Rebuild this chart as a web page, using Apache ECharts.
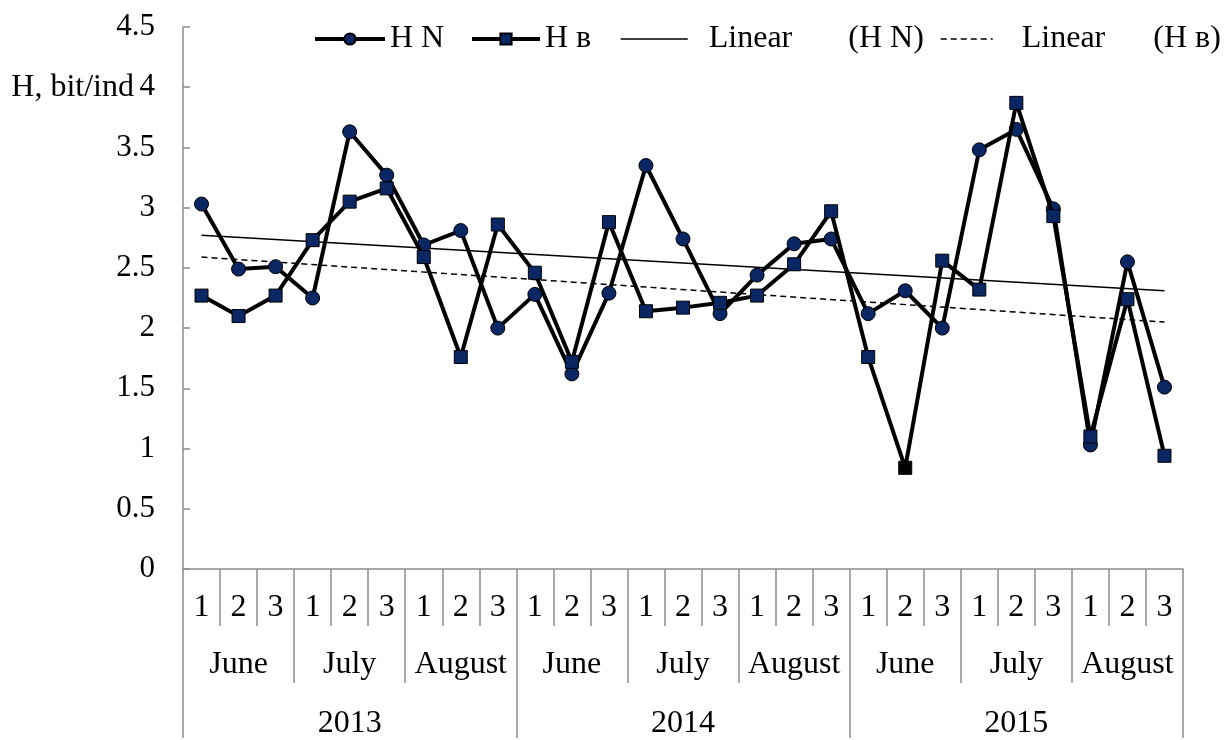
<!DOCTYPE html>
<html>
<head>
<meta charset="utf-8">
<script src="https://cdn.jsdelivr.net/npm/echarts@6/dist/echarts.min.js"></script>
<style>
html,body{margin:0;padding:0;background:#fff;}
#c{width:1224px;height:740px;}
</style>
</head>
<body>
<div id="c"></div>
<script>
// ---- data ----
const decades = ['1','2','3','1','2','3','1','2','3','1','2','3','1','2','3','1','2','3','1','2','3','1','2','3','1','2','3'];
const months = ['June','July','August','June','July','August','June','July','August'];
const years = ['2013','2014','2015'];
const yTicks = [0, 0.5, 1, 1.5, 2, 2.5, 3, 3.5, 4, 4.5];

const hN = [3.03,2.49,2.51,2.25,3.63,3.27,2.69,2.81,2.00,
            2.28,1.62,2.29,3.35,2.74,2.12,2.44,2.70,2.74,
            2.12,2.31,2.00,3.48,3.65,2.99,1.03,2.55,1.51];
const hB = [2.27,2.10,2.27,2.73,3.05,3.16,2.59,1.76,2.86,
            2.46,1.72,2.88,2.14,2.17,2.21,2.27,2.53,2.97,
            1.76,0.84,2.56,2.32,3.87,2.93,1.10,2.24,0.94];
// trend line endpoints [categoryIndex, value]
const trendN = [[0, 2.77], [26, 2.31]];
const trendB = [[0, 2.59], [26, 2.05]];

const FONT = '"Liberation Serif", "Times New Roman", serif';
const NAVY = '#0a2663';
const GREY = '#8c8c8c';
const FS = 32;

const nameN = 'H N', nameB = 'H в';
const nameTN = '  Linear       (H N)', nameTB = '   Linear      (H в)';

const chart = echarts.init(document.getElementById('c'), null, {renderer:'canvas'});

const hBData = hB.map((v, i) => i === 19 ? {value: v, itemStyle: {color: '#000'}} : v);
const legendText = {fontFamily: FONT, fontSize: FS, color: '#000'};

function mkLegend(left, iw, item) {
  return {
    left: left, top: 23, width: 1224 - left + 40,
    itemWidth: iw, itemHeight: 14, itemGap: 0, padding: 0,
    textStyle: legendText,
    data: [item]
  };
}

const option = {
  backgroundColor: '#fff',
  animation: false,
  textStyle: {fontFamily: FONT, color: '#000'},
  grid: {left: 183, right: 41, top: 27, bottom: 169, containLabel: false},
  legend: [
    mkLegend(313, 70, {name: nameN, lineStyle: {width: 4}}),
    mkLegend(470, 68, {name: nameB, lineStyle: {width: 4}}),
    mkLegend(620, 67, {name: nameTN, itemStyle: {opacity: 0}, lineStyle: {width: 1.5}}),
    mkLegend(940, 52, {name: nameTB, itemStyle: {opacity: 0}, lineStyle: {width: 1.5}})
  ],
  graphic: [{
    type: 'text', x: 134, y: 88,
    style: {text: 'H, bit/ind', font: 'normal normal 32px "Liberation Serif", serif', fill: '#000', align: 'right', verticalAlign: 'middle'}
  }],
  xAxis: [
    {
      type: 'category', data: decades, position: 'bottom', boundaryGap: true,
      axisLine: {show: true, lineStyle: {color: GREY, width: 1.5}},
      axisTick: {show: true, interval: 0, length: 57, lineStyle: {color: GREY, width: 1.5}},
      axisLabel: {interval: 0, margin: 23, fontSize: FS, lineHeight: 32, color: '#000', fontFamily: FONT}
    },
    {
      type: 'category', data: months, position: 'bottom', boundaryGap: true,
      axisLine: {show: false},
      axisTick: {show: true, interval: 0, length: 114, lineStyle: {color: GREY, width: 1.5}},
      axisLabel: {interval: 0, margin: 80, fontSize: FS, lineHeight: 32, color: '#000', fontFamily: FONT}
    },
    {
      type: 'category', data: years, position: 'bottom', boundaryGap: true,
      axisLine: {show: false},
      axisTick: {show: true, interval: 0, length: 169, lineStyle: {color: GREY, width: 1.5}},
      axisLabel: {interval: 0, margin: 139, fontSize: FS, lineHeight: 32, color: '#000', fontFamily: FONT}
    }
  ],
  yAxis: {
    type: 'value', min: yTicks[0], max: yTicks[yTicks.length - 1], interval: 0.5,
    axisLine: {show: true, lineStyle: {color: GREY, width: 1.5}},
    axisTick: {show: true, inside: true, length: 7, lineStyle: {color: GREY, width: 1.5}},
    axisLabel: {margin: 28, fontSize: 31, color: '#000', fontFamily: FONT},
    splitLine: {show: false}
  },
  series: [
    {
      name: nameTN, type: 'line', xAxisIndex: 0, data: trendN,
      symbol: 'none', lineStyle: {color: '#000', width: 1.5, type: 'solid'},
      itemStyle: {color: '#000'}, z: 1
    },
    {
      name: nameTB, type: 'line', xAxisIndex: 0, data: trendB,
      symbol: 'none', lineStyle: {color: '#000', width: 1.5, type: [6, 4]},
      itemStyle: {color: '#000'}, z: 1
    },
    {
      name: nameN, type: 'line', xAxisIndex: 0, data: hN,
      symbol: 'circle', symbolSize: 14,
      lineStyle: {color: '#000', width: 4},
      itemStyle: {color: NAVY, borderColor: '#000', borderWidth: 1}, z: 3
    },
    {
      name: nameB, type: 'line', xAxisIndex: 0, data: hBData,
      symbol: 'rect', symbolSize: 13,
      lineStyle: {color: '#000', width: 4},
      itemStyle: {color: NAVY, borderColor: '#000', borderWidth: 1}, z: 4
    }
  ]
};
chart.setOption(option);
</script>
</body>
</html>
